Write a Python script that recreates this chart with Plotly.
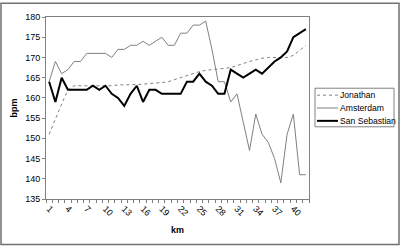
import plotly.graph_objects as go

km = list(range(1, 43))
jonathan = [151, 155, 158.5, 162, 163, 163, 163, 163, 163, 163, 163, 163.2, 163.2, 163.3,
            163.3, 163.4, 163.5, 163.6, 163.8, 164, 164.5, 165, 165.5, 166, 166.5, 166.8,
            167, 167.2, 167.3, 167.5, 168, 168.6, 169, 169.4, 169.8, 170, 170, 170, 170,
            170.5, 171.7, 173]
amsterdam = [164, 169, 166, 167, 169, 169, 171, 171, 171, 171, 170, 172, 172, 173, 173, 174,
             173, 174, 175, 173, 173, 176, 176, 178, 178, 179, 172, 164, 164, 159, 161, 154,
             147, 156, 151, 149, 145, 139, 151, 156, 141, 141]
san_sebastian = [164, 159, 165, 162, 162, 162, 162, 163, 162, 163, 161, 160, 158, 161, 163,
                 159, 162, 162, 161, 161, 161, 161, 164, 164, 166, 164, 163, 161, 161, 167,
                 166, 165, 166, 167, 166, 167.4, 169, 170, 171.5, 175, 176, 177]
x_ticks = list(range(1, 43, 3))
y_ticks = list(range(135, 181, 5))
series_names = ["Jonathan", "Amsterdam", "San Sebastian"]
series_styles = [dict(color="#808080", width=1, dash="dot"),
                 dict(color="#808080", width=1),
                 dict(color="#000000", width=2)]

FONT = "Liberation Sans, Arial, sans-serif"

fig = go.Figure()
for name, vals, st in zip(series_names, [jonathan, amsterdam, san_sebastian], series_styles):
    fig.add_trace(go.Scatter(x=km, y=vals, name=name, mode="lines", line=st,
                             showlegend=False))

L, R, T, B = 46, 91, 15, 47
W, H = 400, 246
pw, ph = W - L - R, H - T - B


def px(xp):
    return (xp - L) / pw


def py(yp):
    return (H - B - yp) / ph


shapes = [dict(type="rect", xref="paper", yref="paper",
               x0=px(1), x1=px(W - 1), y0=py(H - 1), y1=py(1),
               line=dict(color="#707070", width=1.5)),
          dict(type="rect", xref="paper", yref="paper",
               x0=px(315), x1=px(394), y0=py(126), y1=py(87),
               line=dict(color="#808080", width=1), fillcolor="white")]
annotations = []
for i, (name, st) in enumerate(zip(series_names, series_styles)):
    yy = 94 + 13 * i
    shapes.append(dict(type="line", xref="paper", yref="paper",
                       x0=px(317), x1=px(338), y0=py(yy), y1=py(yy), line=st))
    annotations.append(dict(text=name, xref="paper", yref="paper", x=px(338), y=py(yy),
                            xanchor="left", yanchor="middle", showarrow=False,
                            font=dict(size=8.6, color="#000")))

fig.update_layout(
    width=W, height=H,
    margin=dict(l=L, r=R, t=T, b=B),
    paper_bgcolor="white", plot_bgcolor="white",
    font=dict(family=FONT, size=9, color="#000"),
    showlegend=False,
    shapes=shapes,
    annotations=annotations,
)
fig.update_xaxes(range=[0.5, 42.5], tickmode="array", tickvals=x_ticks,
                 ticktext=[str(v) for v in x_ticks], tickangle=45, ticks="",
                 showgrid=False, zeroline=False, showline=True, linecolor="#808080",
                 linewidth=1, mirror=True,
                 minor=dict(tick0=0.5, dtick=1, ticks="outside", ticklen=3,
                            tickcolor="#808080", showgrid=False),
                 title=dict(text="<b>km</b>", font=dict(size=9), standoff=9))
fig.update_yaxes(range=[135, 180], tickmode="array", tickvals=y_ticks, ticks="outside",
                 ticklen=3, tickcolor="#808080", showgrid=False, zeroline=False,
                 showline=True, linecolor="#808080", linewidth=1, mirror=True,
                 title=dict(text="<b>bpm</b>", font=dict(size=9), standoff=6))

fig.write_html("out.html")
